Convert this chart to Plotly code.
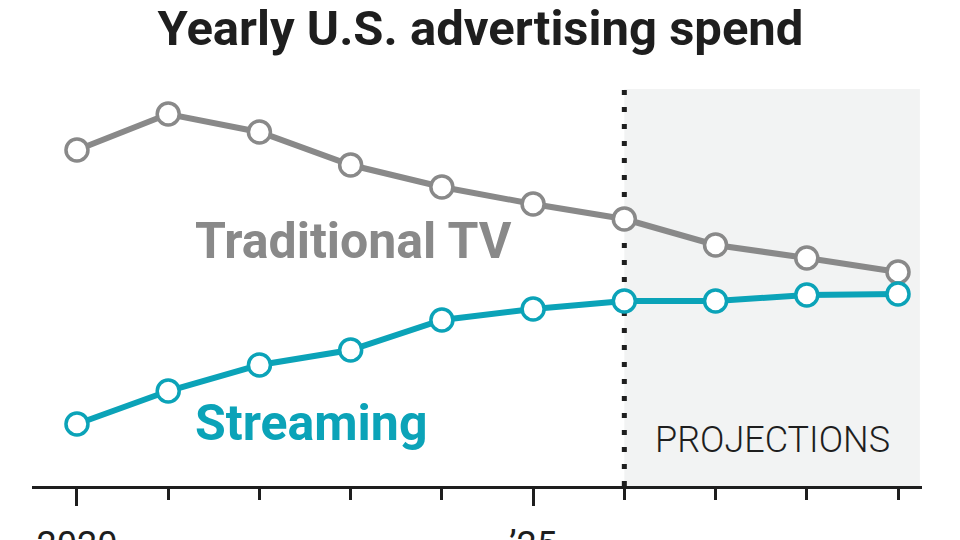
import plotly.graph_objects as go

years = [2020, 2021, 2022, 2023, 2024, 2025, 2026, 2027, 2028, 2029]
traditional_tv = [70.0, 77.2, 73.6, 67.0, 62.6, 59.2, 56.2, 51.0, 48.4, 45.6]
streaming = [15.2, 21.8, 27.0, 30.0, 36.0, 38.2, 39.8, 39.8, 41.0, 41.2]
tick_years = [2020, 2025]
tick_text = ["2020", "\u201925"]
projection_start = 2026

GRAY = "#898989"
TEAL = "#0ba3b8"
INK = "#1e1e1e"
FONT = "Roboto, sans-serif"

fig = go.Figure()

fig.add_trace(go.Scatter(
    x=years, y=traditional_tv, mode="lines+markers",
    line=dict(color=GRAY, width=6),
    marker=dict(size=22, color="white", line=dict(color=GRAY, width=3.5)),
    cliponaxis=False, hoverinfo="skip",
))
fig.add_trace(go.Scatter(
    x=years, y=streaming, mode="lines+markers",
    line=dict(color=TEAL, width=6),
    marker=dict(size=22, color="white", line=dict(color=TEAL, width=3.5)),
    cliponaxis=False, hoverinfo="skip",
))

# projections shading and divider
fig.add_shape(type="rect", xref="x", yref="paper",
              x0=projection_start, x1=2029.24, y0=0, y1=1,
              fillcolor="#f2f3f3", line_width=0, layer="below")
fig.add_shape(type="line", xref="x", yref="paper",
              x0=projection_start, x1=projection_start, y0=0, y1=1,
              line=dict(color=INK, width=5, dash="5px,12px"), layer="below")

fig.add_annotation(x=2026.31, y=12, xref="x", yref="y", text="PROJECTIONS",
                   showarrow=False, xanchor="left", yanchor="middle",
                   font=dict(family=FONT, size=36, color=INK, weight=300))
fig.add_annotation(x=2021.27, y=51.8, xref="x", yref="y", text="<b>Traditional TV</b>",
                   showarrow=False, xanchor="left", yanchor="middle",
                   font=dict(family=FONT, size=50, color=GRAY))
fig.add_annotation(x=2021.27, y=15.4, xref="x", yref="y", text="<b>Streaming</b>",
                   showarrow=False, xanchor="left", yanchor="middle",
                   font=dict(family=FONT, size=50, color=TEAL))

# page is drawn 8px in from the window corner, so margins are offset by 8
fig.update_layout(
    width=960, height=540,
    margin=dict(l=24, r=46, t=81, b=62, autoexpand=False),
    paper_bgcolor="white", plot_bgcolor="white",
    showlegend=False,
    title=dict(text="<b>Yearly U.S. advertising spend</b>",
               x=472.5 / 960, xanchor="center", xref="container",
               y=1 - 20 / 540, yanchor="middle", yref="container",
               font=dict(family=FONT, size=49, color=INK)),
    xaxis=dict(
        range=[2019.507, 2029.263],
        tickvals=tick_years, ticktext=tick_text,
        ticks="outside", ticklen=17, tickwidth=3, tickcolor=INK,
        minor=dict(tickmode="linear", tick0=2020, dtick=1,
                   ticks="outside", ticklen=11, tickwidth=3, tickcolor=INK),
        showline=True, linecolor=INK, linewidth=3,
        showgrid=False, zeroline=False, automargin=False,
        tickfont=dict(family=FONT, size=36, color=INK),
        ticklabelstandoff=8,
    ),
    yaxis=dict(range=[2.8, 82.2], visible=False, showgrid=False, automargin=False),
)

fig.write_html("out.html")
